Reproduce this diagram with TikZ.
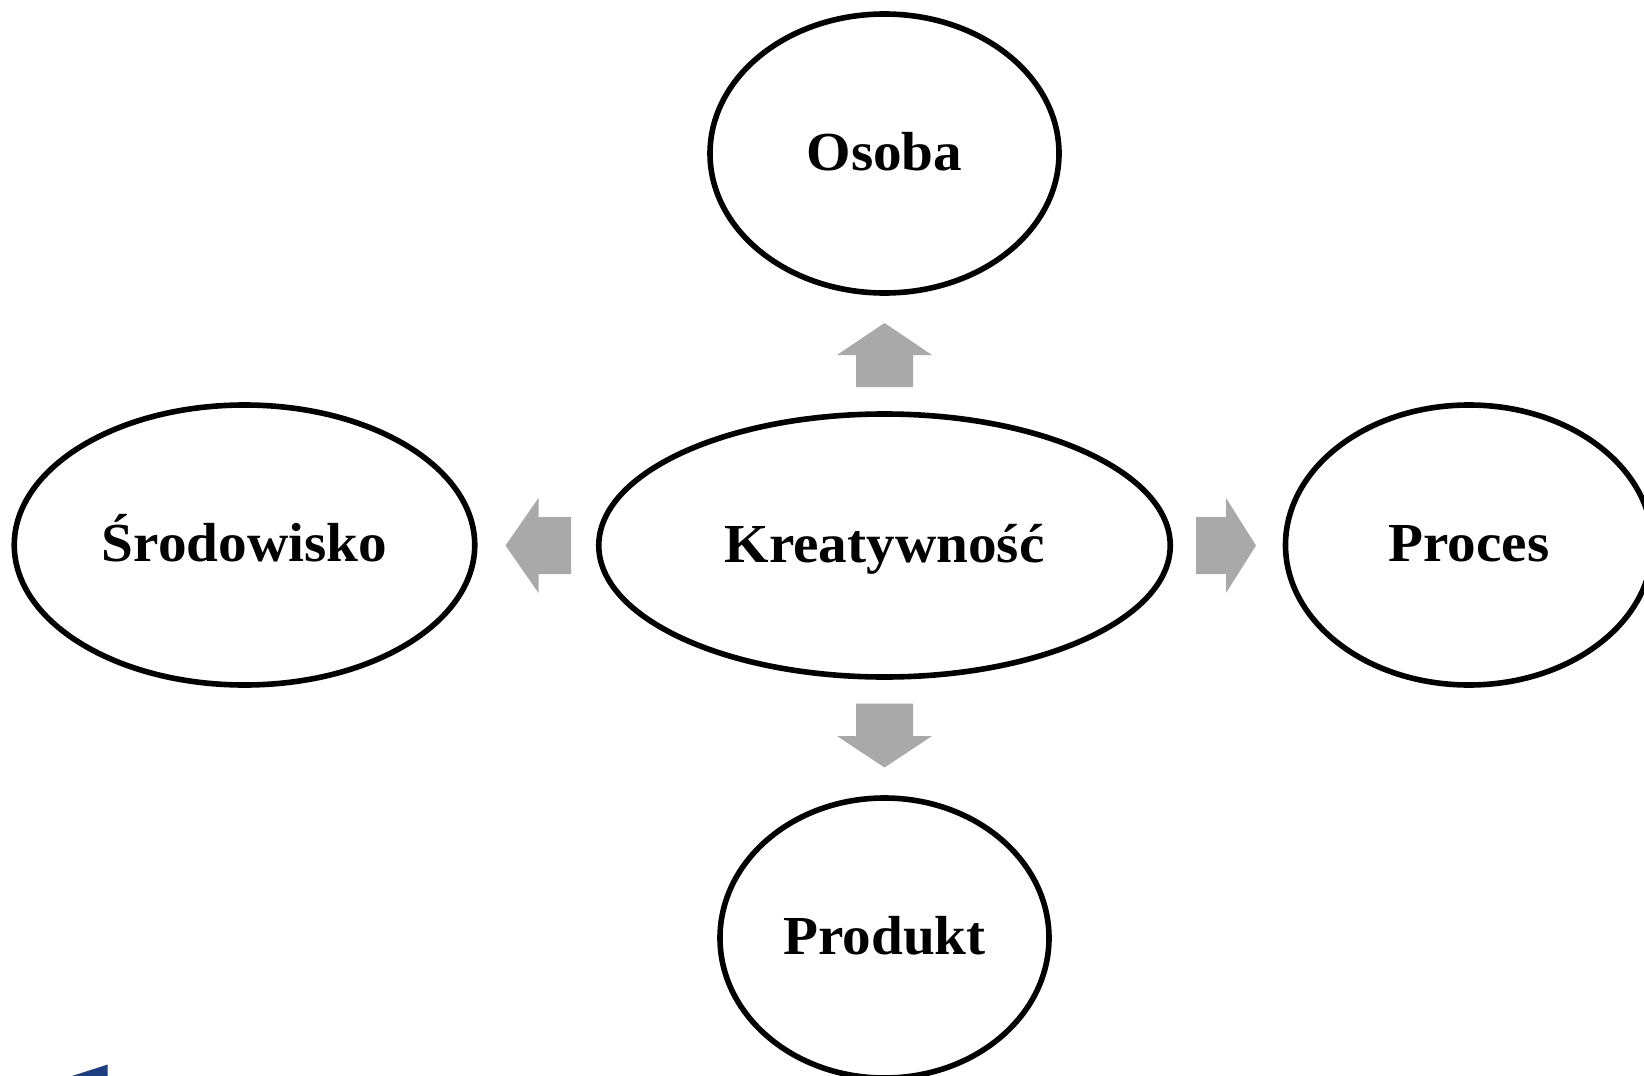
\documentclass[tikz,border=0pt]{standalone}
\usepackage{fontspec}
\setmainfont[FakeStretch=1.04]{Liberation Serif}
\usetikzlibrary{shapes.geometric}
\definecolor{arrowgrey}{HTML}{A9A9A9}
\definecolor{cornerblue}{HTML}{1D3F82}
\tikzset{
  x=1pt,y=-1pt,
  blob/.style={ellipse,draw=black,line width=5.6pt,fill=white,inner sep=0pt,outer sep=0pt,
    text height=39pt,text depth=6pt,font=\fontsize{55}{60}\selectfont\bfseries},
  blockarrow/.style={fill=arrowgrey,draw=none}
}
\begin{document}
\begin{tikzpicture}
\useasboundingbox (0,0) rectangle (1644,1076);
\node[blob,minimum width=349pt,minimum height=279pt] (osoba) at (884.5,153.5) {Osoba};
\node[blob,minimum width=571.5pt,minimum height=263pt] (kreat) at (884.5,545.5) {Kreatywność};
\node[blob,minimum width=460.5pt,minimum height=280pt] (srod) at (244.5,545) {Środowisko};
\node[blob,minimum width=367pt,minimum height=280pt] (proces) at (1469,545) {Proces};
\node[blob,minimum width=329pt,minimum height=280pt] (produkt) at (884.5,938) {Produkt};
% block arrows
\fill[blockarrow] (884.5,323) -- (932,355) -- (913,355) -- (913,387) -- (856,387) -- (856,355) -- (837,355) -- cycle;
\fill[blockarrow] (884.5,767.5) -- (932,736) -- (913,736) -- (913,703.5) -- (856,703.5) -- (856,736) -- (837,736) -- cycle;
\fill[blockarrow] (1256,545.5) -- (1226,498) -- (1226,517) -- (1196,517) -- (1196,574) -- (1226,574) -- (1226,593) -- cycle;
\fill[blockarrow] (505.5,545.5) -- (538.5,498) -- (538.5,517) -- (571,517) -- (571,574) -- (538.5,574) -- (538.5,593) -- cycle;
% corner fragment
\fill[cornerblue] (107.7,1064.5) -- (107.7,1076) -- (72,1076) -- cycle;
\end{tikzpicture}
\end{document}
